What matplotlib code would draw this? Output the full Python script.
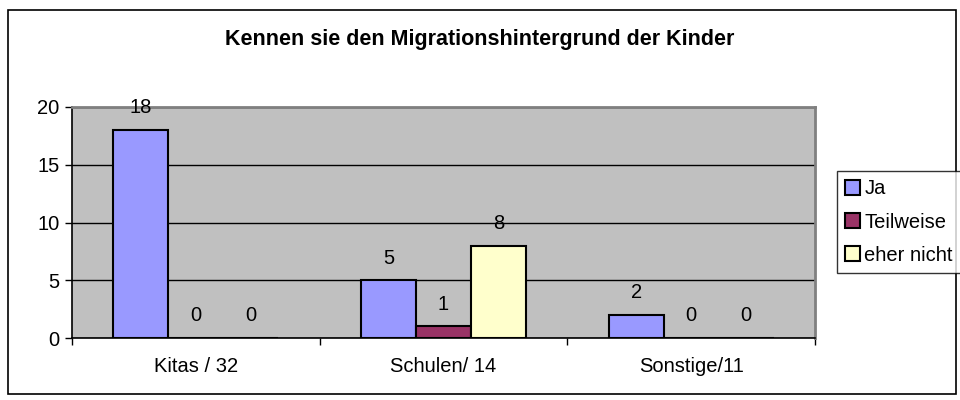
import matplotlib.pyplot as plt
import numpy as np
from matplotlib.patches import Rectangle

plt.rcParams["font.family"] = ["Liberation Sans", "DejaVu Sans"]

# ================================
# %% Data
# ++++++++++++++++++++++++++++++++

categories = ["Kitas / 32", "Schulen/ 14", "Sonstige/11"]
series_names = ["Ja", "Teilweise", "eher nicht"]
ja = [18, 5, 2]
teilweise = [0, 1, 0]
eher_nicht = [0, 8, 0]
title = "Kennen sie den Migrationshintergrund der Kinder"

colors = ["#9999FF", "#993366", "#FFFFCC"]

# ================================
# %% Plot
# ++++++++++++++++++++++++++++++++

fs = 14.5

fig = plt.figure(figsize=(9.6, 4), dpi=100)
ax = fig.add_axes([72/960, 62/400, (815-72)/960, (338-107)/400])

# outer chart border
fig.patches.append(Rectangle((8/960, 6/400), 948/960, 384/400, transform=fig.transFigure,
                             fill=False, edgecolor="black", lw=1.2))

x = np.arange(len(categories))
width = 1 / 4.5
values = [ja, teilweise, eher_nicht]
for i, (name, vals) in enumerate(zip(series_names, values)):
    pos = x + (i - 1) * width
    ax.bar(pos, vals, width=width, color=colors[i], edgecolor="black", lw=1.5,
           label=name, zorder=3)
    for p, v in zip(pos, vals):
        ax.annotate(str(v), (p, v), xytext=(0, 16), textcoords="offset points",
                    ha="center", va="center", fontsize=fs)

ax.set_facecolor("#C0C0C0")
ax.set_xlim(-0.5, len(categories) - 0.5)
ax.set_ylim(0, 20)
ax.set_yticks([0, 5, 10, 15, 20])
ax.yaxis.grid(True, color="black", lw=1, zorder=1)
ax.set_axisbelow(True)

ax.set_xticks(x)
ax.set_xticklabels(categories)
ax.set_xticks(np.arange(len(categories) + 1) - 0.5, minor=True)
ax.tick_params(axis="x", which="major", length=0, pad=14, labelsize=fs)
ax.tick_params(axis="x", which="minor", length=5, width=1, direction="out")
ax.tick_params(axis="y", length=5, width=1, direction="out", pad=4, labelsize=fs)

for side in ["left", "bottom"]:
    ax.spines[side].set_color("black")
    ax.spines[side].set_linewidth(1.2)
for side in ["top", "right"]:
    ax.spines[side].set_color("#808080")
    ax.spines[side].set_linewidth(2)

fig.text(0.5, 1 - 39/400, title, ha="center", va="center", fontsize=15.5,
         fontweight="bold")

leg = fig.legend(loc="center left", bbox_to_anchor=(837/960, 1 - 222/400),
                 frameon=True, fancybox=False, edgecolor="black", fontsize=fs,
                 handlelength=0.75, handleheight=0.75, handletextpad=0.2,
                 labelspacing=0.7, borderpad=0.4, borderaxespad=0)
leg.get_frame().set_linewidth(1)

fig.savefig("out.png", dpi=100)
